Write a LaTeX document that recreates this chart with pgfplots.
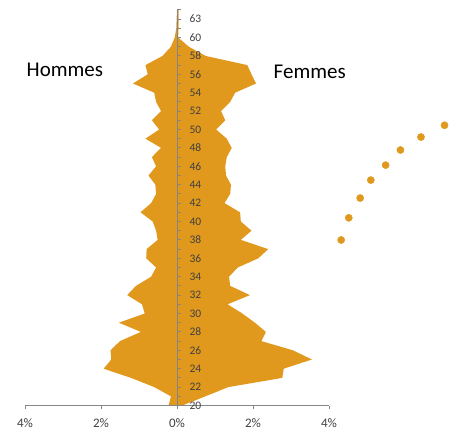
\documentclass[border=0pt]{standalone}
\usepackage{fontspec}
\setmainfont{Carlito}
\usepackage{pgfplots}
\pgfplotsset{compat=1.18}
\definecolor{pyr}{HTML}{E1991D}
\definecolor{axgray}{HTML}{868686}
\definecolor{lbl}{HTML}{404040}

\begin{document}
\begin{tikzpicture}
\useasboundingbox (-25bp,-25.5bp) rectangle (429bp,405.5bp);
\begin{axis}[
  at={(0,0)}, anchor=south west,
  scale only axis, width=304bp, height=395.6bp,
  xmin=-4, xmax=4, ymin=0, ymax=43,
  axis x line*=bottom, axis y line*=middle,
  axis on top, clip=false,
  hide obscured x ticks=false, hide obscured y ticks=false,
  axis line style={draw=axgray, line width=0.8bp},
  tick style={draw=axgray, line width=0.8bp},
  tick align=outside,
  major tick length=4bp, minor tick length=4bp,
  xtick={-4,-2,0,2,4},
  xticklabels={4\%,2\%,0\%,2\%,4\%},
  xticklabel style={font=\fontsize{13bp}{15bp}\selectfont, text=lbl, yshift=-6bp},
  ytick={0,2,...,42},
  minor ytick={1,3,...,43},
  yticklabels={20,22,24,26,28,30,32,34,36,38,40,42,44,46,48,50,52,54,56,58,60,63},
  yticklabel style={font=\fontsize{11.5bp}{13bp}\selectfont, text=lbl, anchor=west, xshift=13bp},
  y tick style={xshift=4bp},
]
% pyramid: femmes (right) going up, hommes (left) coming down
\addplot[fill=pyr, draw=none] coordinates {
  (0,0) (0.14,0) (0.75,1) (1.35,2) (2.77,3) (2.81,4) (3.55,5) (3.05,6) (2.22,7)
  (2.34,8) (2.05,9) (1.72,10) (1.33,11) (1.92,12) (1.40,13) (1.37,14) (1.60,15)
  (2.14,16) (2.40,17) (1.68,18) (1.96,19) (1.68,20) (1.66,21) (1.25,22) (1.40,23)
  (1.42,24) (1.29,25) (1.27,26) (1.31,27) (1.44,28) (1.31,29) (1.03,30) (1.27,31)
  (1.16,32) (1.40,33) (1.53,34) (2.08,35) (1.96,36) (1.85,37) (0.75,38) (0.31,39)
  (0.03,40) (0.04,41) (0.04,42) (0.04,43)
  (0,43) (-0.01,42) (-0.02,41) (-0.06,40) (-0.16,39) (-0.38,38) (-0.83,37) (-0.77,36)
  (-1.16,35) (-0.60,34) (-0.55,33) (-0.42,32) (-0.66,31) (-0.47,30) (-0.83,29)
  (-0.42,28) (-0.66,27) (-0.55,26) (-0.75,25) (-0.57,24) (-0.55,23) (-0.68,22)
  (-0.96,21) (-0.64,20) (-0.55,19) (-0.51,18) (-0.80,17) (-0.81,16) (-0.55,15)
  (-0.68,14) (-1.08,13) (-1.31,12) (-0.92,11) (-0.85,10) (-1.53,9) (-0.95,8)
  (-1.50,7) (-1.75,6) (-1.73,5) (-1.93,4) (-1.21,3) (-0.60,2) (-0.16,1) (-0.22,0)
};
\addplot[only marks, color=pyr, mark=*, mark size=3.6bp, mark options={draw=pyr, fill=pyr}] coordinates {
  (4.32,17.99) (4.52,20.40) (4.82,22.55) (5.10,24.50)
  (5.49,26.13) (5.88,27.77) (6.42,29.18) (7.04,30.46)
};
\node[anchor=base west, inner sep=0, font=\fontsize{21bp}{24bp}\selectfont] at (axis cs:-3.96,35.8) {Hommes};
\node[anchor=base west, inner sep=0, font=\fontsize{21bp}{24bp}\selectfont] at (axis cs:2.54,35.5) {Femmes};
\end{axis}
\end{tikzpicture}
\end{document}
